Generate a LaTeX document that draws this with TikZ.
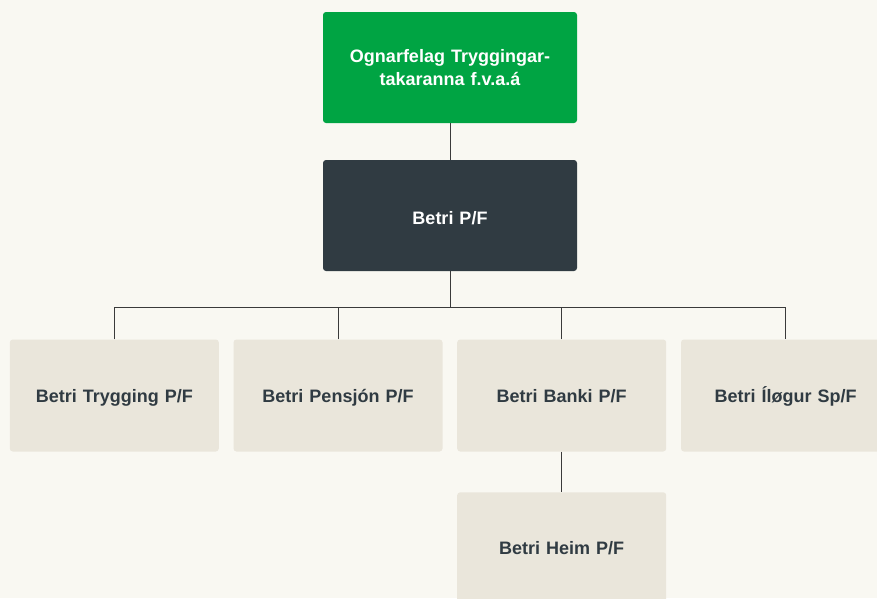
\documentclass[tikz,border=0pt]{standalone}
\usepackage{fontspec}
\setmainfont{Liberation Sans}
\definecolor{bgc}{HTML}{F9F8F2}
\definecolor{boxc}{HTML}{EAE6DB}
\definecolor{greenc}{HTML}{00A443}
\definecolor{darkc}{HTML}{303B42}
\definecolor{linec}{HTML}{3A3A3A}
\begin{document}
\begin{tikzpicture}[x=1pt,y=-1pt,
  box/.style={rectangle, rounded corners=3pt, minimum width=209pt, minimum height=112pt, inner sep=0pt, font=\fontsize{18}{23.4}\selectfont\bfseries, align=center},
  childbox/.style={box, fill=boxc, text=darkc, text height=13pt, text depth=0pt, text width=200pt},
  topbox/.style={box, minimum width=254pt, minimum height=111pt, text=white},
  conn/.style={draw=linec, line width=0.9pt}]
\useasboundingbox (0,0) rectangle (877,598);
\clip (0,0) rectangle (877,598);
\fill[bgc] (0,0) rectangle (877,598);
\node[topbox, fill=greenc, text width=240pt] (og) at (450,67.5) {Ognarfelag Tryggingar-\\takaranna f.v.a.á};
\node[topbox, fill=darkc, text height=17pt, text depth=0pt, text width=240pt] (betri) at (450,215.5) {Betri P/F};
\node[childbox] (tr) at (114.3,395.5) {Betri Trygging P/F};
\node[childbox] (pe) at (338,395.5) {Betri Pensjón P/F};
\node[childbox] (ba) at (561.7,395.5) {Betri Banki P/F};
\node[childbox] (il) at (785.5,395.5) {Betri Íløgur Sp/F};
\node[childbox] (he) at (561.7,548.3) {Betri Heim P/F};
\coordinate (bus) at (450,307.3);
\draw[conn] (og.south) -- (betri.north);
\draw[conn] (betri.south) -- (bus);
\draw[conn] (tr.north) |- (bus) -| (il.north);
\draw[conn] (pe.north) -- (pe.north |- bus);
\draw[conn] (ba.north) -- (ba.north |- bus);
\draw[conn] (ba.south) -- (he.north);
\end{tikzpicture}
\end{document}
